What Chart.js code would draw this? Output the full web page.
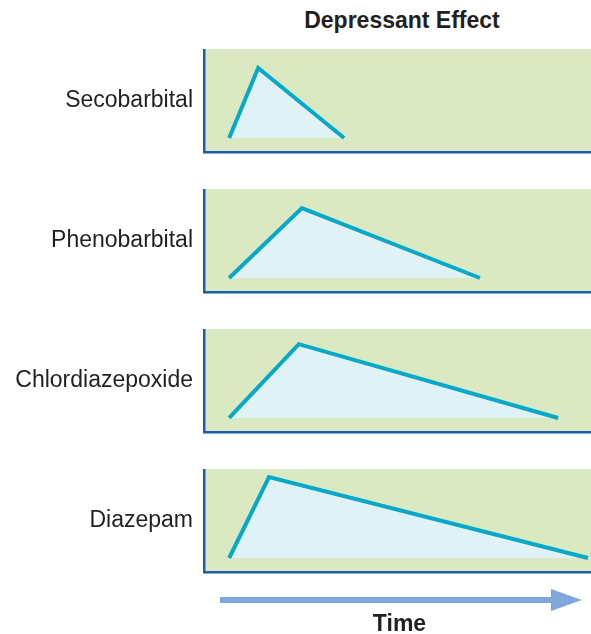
<!DOCTYPE html>
<html>
<head>
<meta charset="utf-8">
<script src="https://cdn.jsdelivr.net/npm/chart.js@4.4.1/dist/chart.umd.min.js"></script>
<style>
  html, body { margin: 0; padding: 0; background: #fff; }
  body { width: 591px; height: 634px; position: relative; overflow: hidden;
         font-family: "Liberation Sans", Arial, Helvetica, sans-serif; color: #231f20; }
  .panel { position: absolute; left: 0; width: 591px; height: 106px; }
  .title { position: absolute; left: 0; width: 804px; top: 6px; text-align: center;
           font-weight: bold; font-size: 23px; line-height: 28px; }
  .time { position: absolute; left: 0; width: 799px; top: 609px; text-align: center;
          font-weight: bold; font-size: 23px; line-height: 28px; }
  svg { position: absolute; left: 0; top: 0; }
</style>
</head>
<body>
<div class="title">Depressant Effect</div>
<div class="panel" style="top:49px"><canvas id="c0"></canvas></div>
<div class="panel" style="top:189px"><canvas id="c1"></canvas></div>
<div class="panel" style="top:329px"><canvas id="c2"></canvas></div>
<div class="panel" style="top:469px"><canvas id="c3"></canvas></div>
<svg width="591" height="634">
  <rect x="220" y="597" width="334" height="6" fill="#7fa7da"></rect>
  <polygon points="551,589 582,600 551,611" fill="#7fa7da"></polygon>
</svg>
<div class="time">Time</div>

<script>
  // 薬剤名
  var drugs = ['Secobarbital', 'Phenobarbital', 'Chlordiazepoxide', 'Diazepam'];
  // 時間 (0-100) : 投与, ピーク, 消失
  var onsetTimes = [6.5, 6.5, 6.5, 6.5];
  var peakTimes = [14.0, 25.3, 24.5, 16.8];
  var endTimes = [36.2, 71.3, 91.5, 99.2];
  // 効果 (0-100)
  var baseEffect = [13.6, 13.6, 13.6, 13.6];
  var peakEffect = [81.6, 81.4, 85.3, 92.2];

  var FONT = '"Liberation Sans", Arial, Helvetica, sans-serif';
  var AXIS_COLOR = '#1c5fa8';

  /** 背景（緑）を描く */
  var bgPlugin = {
    id: 'panelBg',
    beforeDraw: function(chart) {
      var a = chart.chartArea;
      var ctx = chart.ctx;
      ctx.save();
      ctx.fillStyle = '#dbe9c2';
      ctx.fillRect(a.left, a.top, a.right - a.left, a.bottom - a.top);
      ctx.restore();
    }
  };

  function makeChart(i) {
    var points = [
      { x: onsetTimes[i], y: baseEffect[i] },
      { x: peakTimes[i], y: peakEffect[i] },
      { x: endTimes[i], y: baseEffect[i] }
    ];
    return new Chart(document.getElementById('c' + i), {
      type: 'line',
      data: {
        datasets: [{
          data: points,
          borderColor: '#08a8c8',
          borderWidth: 4,
          backgroundColor: '#e1f2f6',
          fill: { value: baseEffect[i] },
          pointRadius: 0,
          tension: 0
        }]
      },
      options: {
        responsive: true,
        maintainAspectRatio: false,
        animation: false,
        layout: { padding: 0 },
        plugins: {
          legend: { display: false },
          tooltip: { enabled: false }
        },
        scales: {
          x: {
            type: 'linear',
            min: 0,
            max: 100,
            grid: { display: false, drawTicks: false },
            ticks: { display: false },
            border: { display: true, color: AXIS_COLOR, width: 2.5 },
            afterFit: function(s) { s.height = 3; }
          },
          y: {
            min: 0,
            max: 100,
            grid: { display: false, drawTicks: false },
            border: { display: true, color: AXIS_COLOR, width: 2.5 },
            afterBuildTicks: function(s) { s.ticks = [{ value: 50 }]; },
            afterFit: function(s) {
              s.width = 204;
              s.paddingTop = 0;
              s.paddingBottom = 0;
            },
            ticks: {
              padding: 11,
              color: '#231f20',
              font: { family: FONT, size: 23 },
              callback: function() { return drugs[i]; }
            }
          }
        }
      },
      plugins: [bgPlugin]
    });
  }

  for (var i = 0; i < drugs.length; i++) {
    makeChart(i);
  }
</script>
</body>
</html>
